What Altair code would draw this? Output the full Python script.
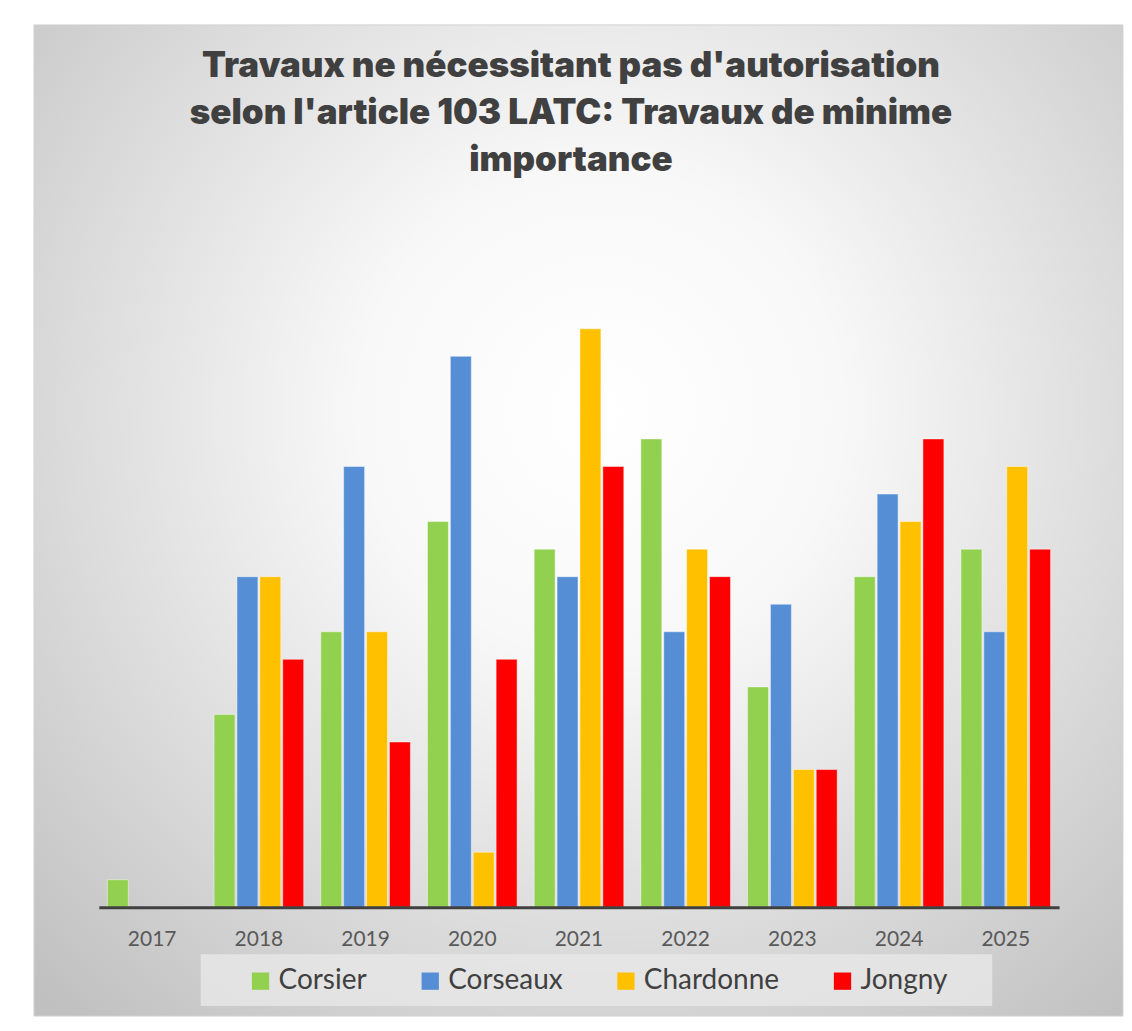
import altair as alt
import pandas as pd

years = ["2017", "2018", "2019", "2020", "2021", "2022", "2023", "2024", "2025"]
communes = ["Corsier", "Corseaux", "Chardonne", "Jongny"]
corsier = [1, 7, 10, 14, 13, 17, 8, 12, 13]
corseaux = [0, 12, 16, 20, 12, 10, 11, 15, 10]
chardonne = [0, 12, 10, 2, 21, 13, 5, 14, 16]
jongny = [0, 9, 6, 9, 16, 12, 5, 17, 13]
colors = ["#92d050", "#558ed5", "#ffc000", "#ff0000"]

series = [corsier, corseaux, chardonne, jongny]
rows = []
for i, yr in enumerate(years):
    for c, vals in zip(communes, series):
        rows.append({"Année": yr, "Commune": c, "Nombre": vals[i]})
df = pd.DataFrame(rows)

W, H = 962, 690

one = alt.Data(values=[{"k": 1}])

bg = alt.Chart(one).mark_rect(
    fill=alt.Gradient(
        gradient="radial", x1=0.52, y1=0.4, x2=0.52, y2=0.4, r1=0, r2=0.74,
        stops=[
            alt.GradientStop(offset=0, color="#ffffff"),
            alt.GradientStop(offset=0.3, color="#f8f8f8"),
            alt.GradientStop(offset=1, color="#c0c0c0"),
        ],
    ),
    stroke="#d4d4d4", strokeWidth=1,
).encode(x=alt.value(-65), x2=alt.value(1026), y=alt.value(-194), y2=alt.value(799))

legbox = alt.Chart(one).mark_rect(fill="#e6e6e6", opacity=0.85).encode(
    x=alt.value(102), x2=alt.value(895), y=alt.value(737), y2=alt.value(789)
)

bars = alt.Chart(df).mark_bar(stroke="white", strokeOpacity=0.45, strokeWidth=1).encode(
    x=alt.X(
        "Année:N", sort=years,
        scale=alt.Scale(paddingInner=0.16, paddingOuter=0.08),
        axis=alt.Axis(
            title=None, labelAngle=0, ticks=False, grid=False,
            domainColor="#404040", domainWidth=3,
            labelFont="Lato", labelFontSize=21, labelColor="#595959",
            labelPadding=21, zindex=1,
        ),
    ),
    xOffset=alt.XOffset("Commune:N", sort=communes,
                        scale=alt.Scale(paddingInner=0.084, paddingOuter=0)),
    y=alt.Y("Nombre:Q", scale=alt.Scale(domain=[0, 25]), axis=None),
    color=alt.Color(
        "Commune:N", sort=communes,
        scale=alt.Scale(domain=communes, range=colors),
        legend=alt.Legend(
            title=None, orient="none", legendX=148, legendY=750,
            direction="horizontal", columns=4, symbolType="square",
            symbolSize=300, symbolStrokeWidth=0,
            labelFont="Lato", labelFontSize=28, labelColor="#404040",
            labelOffset=4, columnPadding=49, padding=0, zindex=1,
        ),
    ),
)

chart = alt.layer(bg, legbox, bars).properties(
    width=W, height=H,
    title=alt.Title(
        text=["Travaux ne nécessitant pas d'autorisation",
              "selon l'article 103 LATC: Travaux de minime",
              "importance"],
        fontSize=35, font="Inter", fontWeight=900, color="#404040",
        anchor="middle", frame="group", offset=-189, baseline="bottom",
        lineHeight=47, dx=-8, zindex=1,
    ),
    padding={"left": 25, "top": 15, "right": 0, "bottom": 5},
    background="white",
).configure_view(stroke=None)

chart.save("out.html", embed_options={"renderer": "svg", "actions": False})
